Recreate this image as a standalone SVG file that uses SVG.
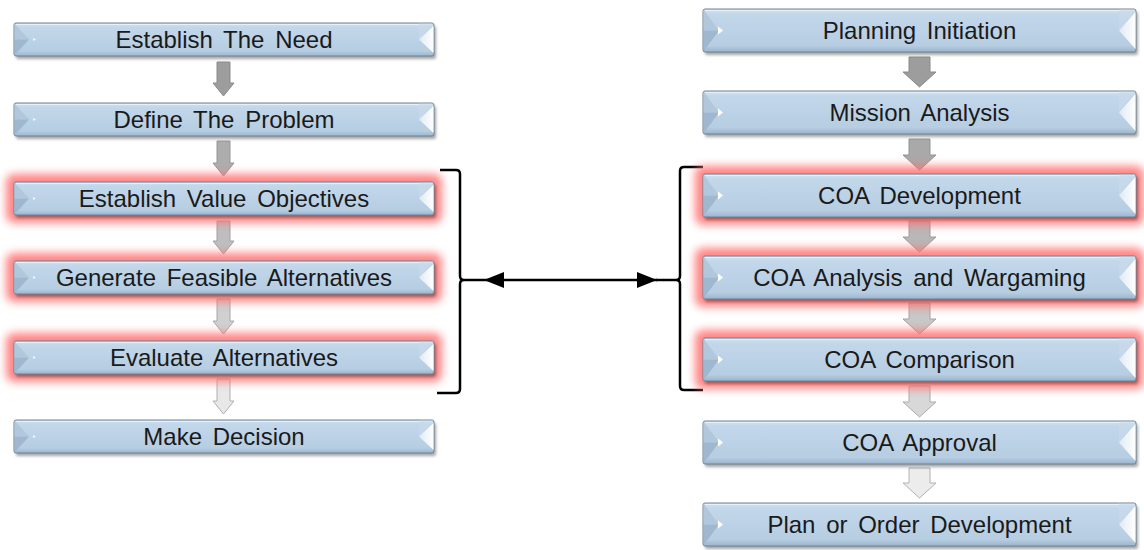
<svg xmlns="http://www.w3.org/2000/svg" xmlns:xlink="http://www.w3.org/1999/xlink" width="1144" height="550" viewBox="0 0 1144 550">
<style>
.t{font-family:"Liberation Sans",Arial,sans-serif;font-size:24px;fill:#1a1a1a;text-anchor:middle;word-spacing:4px}
.br{fill:none;stroke:#000;stroke-width:2.5}
.ln{stroke:#000;stroke-width:2.5}
</style>
<defs>
<linearGradient id="gb" x1="0" y1="0" x2="0" y2="1">
<stop offset="0" stop-color="#d3e3f1"/>
<stop offset="0.12" stop-color="#c3d7ea"/>
<stop offset="0.85" stop-color="#b6cde2"/>
<stop offset="1" stop-color="#9cb5cc"/>
</linearGradient>
<linearGradient id="gn" x1="0" y1="0" x2="1" y2="0">
<stop offset="0" stop-color="#dfeaf4"/>
<stop offset="1" stop-color="#ffffff"/>
</linearGradient>
<filter id="sh" x="-5%" y="-30%" width="110%" height="160%"><feGaussianBlur stdDeviation="1.5"/></filter>
<filter id="gl" x="-10%" y="-60%" width="120%" height="220%"><feGaussianBlur stdDeviation="4"/></filter>
<marker id="ah" viewBox="0 0 20 16" refX="20" refY="8" markerWidth="20" markerHeight="16" markerUnits="userSpaceOnUse" orient="auto-start-reverse">
<path d="M0 0 L20 8 L0 16 Z" fill="#000"/>
</marker>
<g id="glowL"><rect x="-8" y="-8" width="436" height="49" rx="8" fill="#ff6f6f" opacity="0.85" filter="url(#gl)"/></g>
<g id="glowR"><rect x="-8" y="-8" width="449" height="59" rx="8" fill="#ff6f6f" opacity="0.85" filter="url(#gl)"/></g>
<g id="boxL">
<rect x="2" y="3" width="420" height="33" rx="2" fill="#000" opacity="0.35" filter="url(#sh)"/>
<rect x="0" y="0" width="420" height="33" rx="2" fill="url(#gb)" stroke="#6d8397" stroke-width="1"/>
<path d="M2 1.5H418" stroke="#e6f0f8" stroke-width="1"/>
<polygon points="0.5,0.5 15,16.5 0.5,16.5" fill="#b0c7dc"/>
<polygon points="0.5,16.5 15,16.5 0.5,32.5" fill="#9fb8cf"/>
<polygon points="19,15 22,16.5 19,18" fill="#ffffff" opacity="0.8"/>
<polygon points="405,0.5 419.5,0.5 405,16.5" fill="#c9dbea" opacity="0.6"/>
<polygon points="419.5,3 405,16.5 419.5,30" fill="url(#gn)"/>
</g>
<g id="boxR">
<rect x="2" y="3" width="433" height="43" rx="2" fill="#000" opacity="0.35" filter="url(#sh)"/>
<rect x="0" y="0" width="433" height="43" rx="2" fill="url(#gb)" stroke="#6d8397" stroke-width="1"/>
<path d="M2 1.5H431" stroke="#e6f0f8" stroke-width="1"/>
<polygon points="0.5,0.5 16,21.5 0.5,21.5" fill="#b0c7dc"/>
<polygon points="0.5,21.5 16,21.5 0.5,42.5" fill="#9fb8cf"/>
<polygon points="15,17.5 20,21.5 15,25.5" fill="#ffffff"/>
<polygon points="416,0.5 432.5,0.5 416,21.5" fill="#c9dbea" opacity="0.6"/>
<polygon points="432.5,3 416,21.5 432.5,40" fill="url(#gn)"/>
</g>
</defs>
<rect width="1144" height="550" fill="#ffffff"/>

<g id="connectors">
<polygon points="217,62 230,62 230,83 234,83 223.5,96 213,83 217,83" fill="#9d9d9d" stroke="#8a8a8a"/>
<polygon points="217,141 230,141 230,163 234,163 223.5,176 213,163 217,163" fill="#adadad" stroke="#969696"/>
<polygon points="217,221 230,221 230,241 234,241 223.5,254 213,241 217,241" fill="#bebebe" stroke="#a0a0a0"/>
<polygon points="217,299 230,299 230,321 234,321 223.5,334 213,321 217,321" fill="#d0d0d0" stroke="#a8a8a8"/>
<polygon points="217,379 230,379 230,401 234,401 223.5,414 213,401 217,401" fill="#e8e8e8" stroke="#b0b0b0"/>

<polygon points="909,57 930,57 930,72 936,72 919.5,87 903,72 909,72" fill="#9d9d9d" stroke="#8a8a8a"/>
<polygon points="909,139 930,139 930,155 936,155 919.5,170 903,155 909,155" fill="#a9a9a9" stroke="#939393"/>
<polygon points="909,221 930,221 930,237 936,237 919.5,252 903,237 909,237" fill="#b8b8b8" stroke="#9c9c9c"/>
<polygon points="909,303 930,303 930,319 936,319 919.5,334 903,319 909,319" fill="#c8c8c8" stroke="#a4a4a4"/>
<polygon points="909,386 930,386 930,402 936,402 919.5,417 903,402 909,402" fill="#d8d8d8" stroke="#ababab"/>
<polygon points="909,468 930,468 930,483 936,483 919.5,498 903,483 909,483" fill="#ececec" stroke="#b2b2b2"/>

<path class="br" d="M440 170H456Q460 170 460 174V276Q460 280 464 280Q460 280 460 284V389Q460 393 456 393H437"/>
<path class="br" d="M703 167H684Q680 167 680 171V276Q680 280 676 280Q680 280 680 284V386Q680 390 684 390H703"/>
<line class="ln" x1="464" y1="280" x2="484" y2="280"/>
<line class="ln" x1="656" y1="280" x2="676" y2="280"/>
<line class="ln" x1="484" y1="280" x2="657" y2="280" marker-start="url(#ah)" marker-end="url(#ah)"/>
</g>

<g id="n-establish-need" transform="translate(14,23)"><use href="#boxL"/><text class="t" x="210" y="24.5">Establish The Need</text></g>
<g id="n-define-problem" transform="translate(14,103)"><use href="#boxL"/><text class="t" x="210" y="24.5">Define The Problem</text></g>
<g id="n-value-objectives" transform="translate(14,182)"><use href="#glowL"/><use href="#boxL"/><text class="t" x="210" y="24.5">Establish Value Objectives</text></g>
<g id="n-feasible-alternatives" transform="translate(14,261)"><use href="#glowL"/><use href="#boxL"/><text class="t" x="210" y="24.5">Generate Feasible Alternatives</text></g>
<g id="n-evaluate-alternatives" transform="translate(14,341)"><use href="#glowL"/><use href="#boxL"/><text class="t" x="210" y="24.5">Evaluate Alternatives</text></g>
<g id="n-make-decision" transform="translate(14,420)"><use href="#boxL"/><text class="t" x="210" y="24.5">Make Decision</text></g>

<g id="n-planning-initiation" transform="translate(703,9)"><use href="#boxR"/><text class="t" x="216.5" y="29.5">Planning Initiation</text></g>
<g id="n-mission-analysis" transform="translate(703,91)"><use href="#boxR"/><text class="t" x="216.5" y="29.5">Mission Analysis</text></g>
<g id="n-coa-development" transform="translate(703,174)"><use href="#glowR"/><use href="#boxR"/><text class="t" x="216.5" y="29.5">COA Development</text></g>
<g id="n-coa-analysis" transform="translate(703,256)"><use href="#glowR"/><use href="#boxR"/><text class="t" x="216.5" y="29.5">COA Analysis and Wargaming</text></g>
<g id="n-coa-comparison" transform="translate(703,338)"><use href="#glowR"/><use href="#boxR"/><text class="t" x="216.5" y="29.5">COA Comparison</text></g>
<g id="n-coa-approval" transform="translate(703,421)"><use href="#boxR"/><text class="t" x="216.5" y="29.5">COA Approval</text></g>
<g id="n-plan-order" transform="translate(703,503)"><use href="#boxR"/><text class="t" x="216.5" y="29.5">Plan or Order Development</text></g>
</svg>
